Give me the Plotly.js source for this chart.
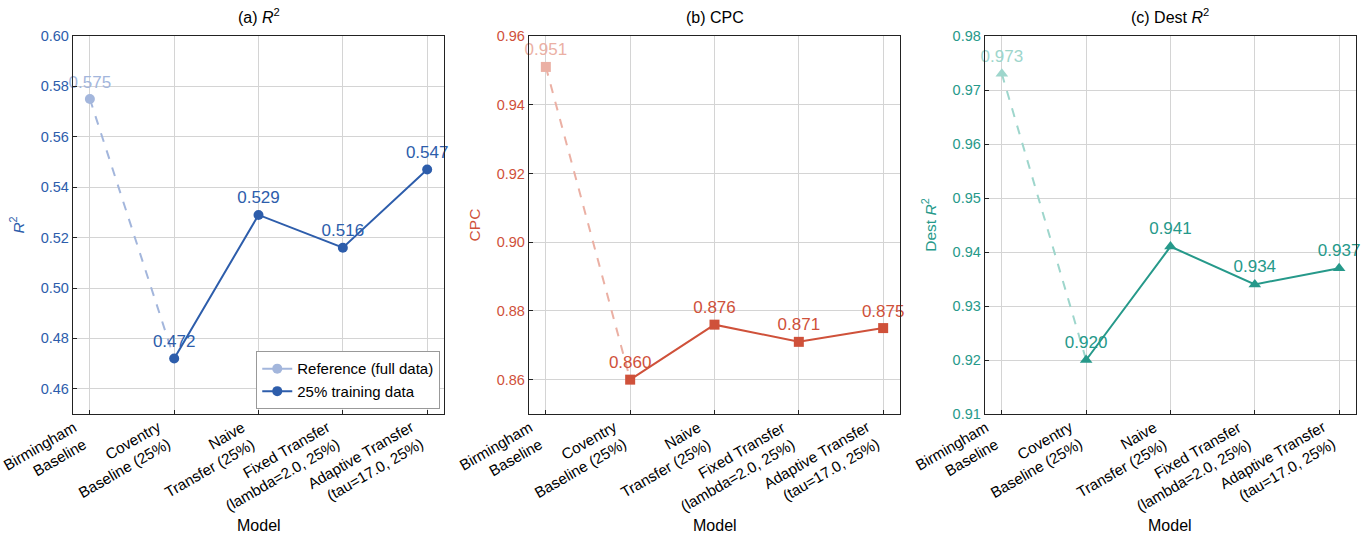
<!DOCTYPE html>
<html><head><meta charset="utf-8">
<script src="https://cdn.plot.ly/plotly-3.0.1.min.js"></script>
<style>html,body{margin:0;padding:0;background:#fff;}#chart{width:1370px;height:536px;}</style>
</head><body><div id="chart"></div>
<script>
const categories = ["Birmingham<br>Baseline", "Coventry<br>Baseline (25%)", "Naive<br>Transfer (25%)", "Fixed Transfer<br>(lambda=2.0, 25%)", "Adaptive Transfer<br>(tau=17.0, 25%)"];
const r2Reference = 0.575;
const r2Values = [0.472, 0.529, 0.516, 0.547];
const cpcReference = 0.951;
const cpcValues = [0.860, 0.876, 0.871, 0.875];
const destReference = 0.973;
const destValues = [0.920, 0.941, 0.934, 0.937];
const panelTitles = ["(a) <i>R</i><sup>2</sup>", "(b) CPC", "(c) Dest <i>R</i><sup>2</sup>"];
const yTitles = ["<i>R</i><sup>2</sup>", "CPC", "Dest <i>R</i><sup>2</sup>"];
const xTitle = "Model";
const legendNames = ["Reference (full data)", "25% training data"];

const FONT = "Liberation Sans, Arial, sans-serif";
const panels = [
  {ref: r2Reference, vals: r2Values, dark: "#2d5dab", light: "#a3b6dc", symbol: "circle", range: [0.45, 0.60], dtick: 0.02, tickfmt: ".2f", dom: [0, 0.2892], msize: 10},
  {ref: cpcReference, vals: cpcValues, dark: "#cf513a", light: "#ebb0a4", symbol: "square", range: [0.85, 0.96], dtick: 0.02, tickfmt: ".2f", dom: [0.3554, 0.6446], msize: 10},
  {ref: destReference, vals: destValues, dark: "#26998a", light: "#9ed6cc", symbol: "triangle-up", range: [0.91, 0.98], dtick: 0.01, tickfmt: ".2f", dom: [0.7108, 1], msize: 11}
];
const idx = categories.map((c, i) => i);
const traces = [];
const layout = {
  width: 1370, height: 536,
  margin: {l: 73, r: 14, t: 36, b: 122},
  paper_bgcolor: "#fff", plot_bgcolor: "#fff",
  font: {family: FONT, size: 14, color: "#000"},
  showlegend: true,
  legend: {x: 0.1426, y: 0.013, xanchor: "left", yanchor: "bottom", xref: "paper", yref: "paper",
    bordercolor: "#999", borderwidth: 1.3, bgcolor: "#fff", font: {size: 15, family: FONT},
    tracegroupgap: 0, itemwidth: 30},
  annotations: []
};
panels.forEach((p, k) => {
  const n = k === 0 ? "" : String(k + 1);
  const xa = "x" + n, ya = "y" + n;
  traces.push({x: [idx[0], idx[1]], y: [p.ref, p.vals[0]], xaxis: xa, yaxis: ya, mode: "lines",
    line: {color: p.light, width: 2, dash: "dash"}, showlegend: false, hoverinfo: "skip"});
  traces.push({x: [idx[0]], y: [p.ref], xaxis: xa, yaxis: ya, mode: "lines+markers+text",
    name: legendNames[0], showlegend: k === 0,
    marker: {color: p.light, size: p.msize, symbol: p.symbol},
    line: {color: p.light, width: 2},
    text: [p.ref.toFixed(3)], textposition: "top center",
    textfont: {color: p.light, size: 17, family: FONT}, cliponaxis: false});
  traces.push({x: idx.slice(1), y: p.vals, xaxis: xa, yaxis: ya, mode: "lines+markers+text",
    name: legendNames[1], showlegend: k === 0,
    marker: {color: p.dark, size: p.msize, symbol: p.symbol},
    line: {color: p.dark, width: 2},
    text: p.vals.map(v => v.toFixed(3)), textposition: "top center",
    textfont: {color: p.dark, size: 17, family: FONT}, cliponaxis: false});
  layout["xaxis" + n] = {
    domain: p.dom, anchor: ya, range: [-0.2, 4.2],
    tickvals: idx, ticktext: categories, showticklabels: false,
    showgrid: true, gridcolor: "#d4d4d4", gridwidth: 1,
    showline: true, linecolor: "#222", linewidth: 1.2, mirror: true,
    ticks: "inside", ticklen: 4, tickcolor: "#222", zeroline: false,
    automargin: false
  };
  layout["yaxis" + n] = {
    domain: [0, 1], anchor: xa, range: p.range, dtick: p.dtick, tick0: 0, tickformat: p.tickfmt,
    tickfont: {size: 14.5, family: FONT, color: p.dark},
    showgrid: true, gridcolor: "#d4d4d4", gridwidth: 1,
    showline: true, linecolor: "#222", linewidth: 1.2, mirror: true,
    ticks: "inside", ticklen: 4, tickcolor: "#222", zeroline: false,
    title: {text: yTitles[k], font: {size: 15.5, family: FONT, color: p.dark}, standoff: 12}, automargin: false
  };
  categories.forEach((c, i) => {
    layout.annotations.push({text: c, xref: xa, yref: "paper", x: idx[i], y: 0,
      xanchor: "right", yanchor: "top", align: "right", textangle: -30, yshift: -1, xshift: 2,
      showarrow: false, font: {size: 15.2, family: FONT, color: "#000"}});
  });
  layout.annotations.push({text: xTitle, xref: "paper", yref: "paper",
    x: (p.dom[0] + p.dom[1]) / 2, y: 0, yshift: -101, xanchor: "center", yanchor: "top",
    showarrow: false, font: {size: 16, family: FONT, color: "#000"}});
  layout.annotations.push({text: panelTitles[k], xref: "paper", yref: "paper",
    x: (p.dom[0] + p.dom[1]) / 2, y: 1, yshift: 8, xanchor: "center", yanchor: "bottom",
    showarrow: false, font: {size: 16, family: FONT, color: "#000"}});
});
Plotly.newPlot("chart", traces, layout, {displayModeBar: false, staticPlot: true});
</script>
</body></html>
